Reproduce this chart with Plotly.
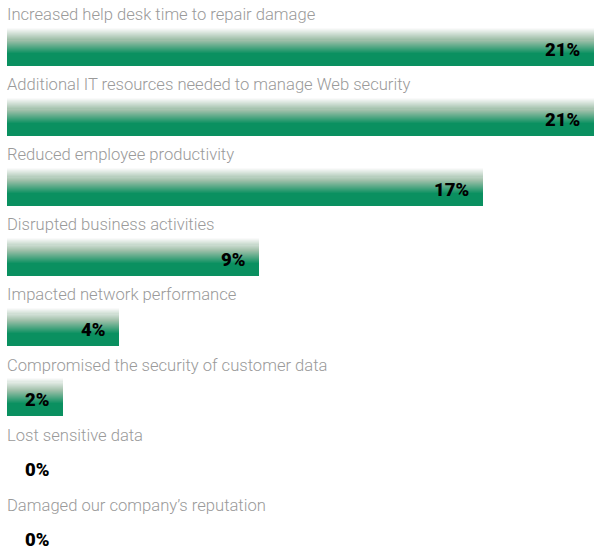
import plotly.graph_objects as go

categories = [
    "Increased help desk time to repair damage",
    "Additional IT resources needed to manage Web security",
    "Reduced employee productivity",
    "Disrupted business activities",
    "Impacted network performance",
    "Compromised the security of customer data",
    "Lost sensitive data",
    "Damaged our company\u2019s reputation",
]
values = [21, 21, 17, 9, 4, 2, 0, 0]
value_labels = ["21%", "21%", "17%", "9%", "4%", "2%", "0%", "0%"]

GREEN = (10, 144, 96)
rows = list(range(len(categories)))
bar_w = 0.54
n_slices = 24
grad_frac = 0.66

def lerp(c1, c2, t):
    return tuple(round(a + (b - a) * t) for a, b in zip(c1, c2))

stops = [(0.0, (250, 250, 250)), (0.45, (160, 192, 170)), (1.0, GREEN)]

def grad_color(t):
    for (t0, c0), (t1, c1) in zip(stops[:-1], stops[1:]):
        if t <= t1:
            return lerp(c0, c1, (t - t0) / (t1 - t0))
    return GREEN

fig = go.Figure()
dw = bar_w * grad_frac / n_slices
for k in range(n_slices + 1):
    t = k / n_slices
    c = grad_color(t)
    off = -bar_w / 2 + k * dw
    fig.add_trace(go.Bar(
        y=rows, x=values, orientation="h",
        width=bar_w - k * dw, offset=off,
        marker=dict(color="rgb(%d,%d,%d)" % c, line=dict(width=0)),
        hoverinfo="skip", showlegend=False,
    ))

# value labels
for r, v, lab in zip(rows, values, value_labels):
    fig.add_annotation(
        x=max(v, 2), y=r, xref="x", yref="y", text=lab, showarrow=False,
        xanchor="right", yanchor="middle", xshift=-12, yshift=-3,
        font=dict(family="Roboto", size=18.5, color="black", weight=900),
    )

for r, cat in zip(rows, categories):
    fig.add_annotation(
        x=0, y=r - 0.46, xref="x", yref="y", text=cat, showarrow=False,
        xanchor="left", yanchor="middle", xshift=-2,
        font=dict(family="Roboto", size=16.6, color="#9a9a9a", weight=300),
    )

fig.update_layout(
    width=595, height=550,
    margin=dict(l=0, r=0, t=0, b=0),
    paper_bgcolor="white", plot_bgcolor="white",
    barmode="overlay", bargap=0,
    xaxis=dict(range=[-0.25, 21.02], visible=False, fixedrange=True),
    yaxis=dict(range=[7.18, -0.67], visible=False, fixedrange=True),
)

fig.write_html(
    "out.html",
    config={"displayModeBar": False, "staticPlot": True},
    post_script="document.body.style.margin='0';document.body.style.padding='0';",
)
